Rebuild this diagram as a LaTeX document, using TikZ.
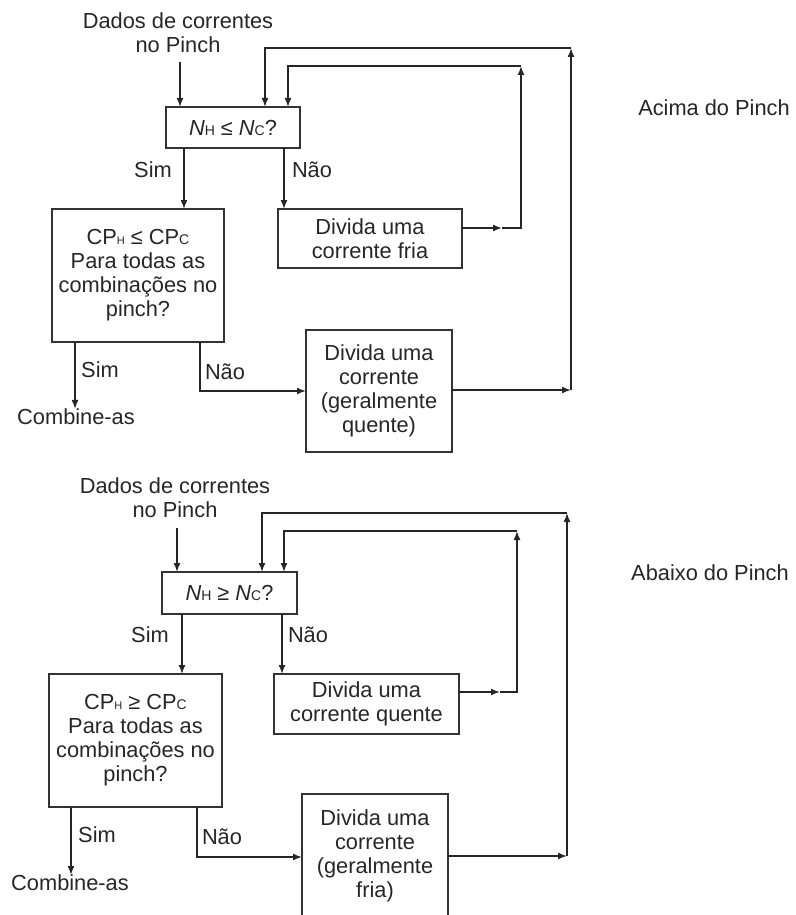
\documentclass[tikz,border=0pt]{standalone}
\usepackage{fontspec}
\setmainfont{Liberation Sans}
\usetikzlibrary{arrows.meta}

% small letters standing on the baseline, used as indices
\newcommand{\idx}[1]{{\fontsize{14}{14}\selectfont #1}}
\newcommand{\tinyidx}[1]{{\fontsize{11}{11}\selectfont #1}}

\begin{document}
\begin{tikzpicture}[x=1pt,y=-1pt,
  base/.style={font=\fontsize{21.8}{24}\selectfont, text=black!85, inner sep=0pt, outer sep=0pt},
  txt/.style={base, align=center},
  box/.style={base, draw=black!80, line width=1.5pt, align=center},
  arr/.style={draw=black!85, line width=1.5pt, -{Latex[length=9pt,width=7pt]}},
]
\useasboundingbox (0,0) rectangle (795,915);
\clip (0,0) rectangle (795,915);

% ---------- above the pinch ----------
\node[txt] (dados1) at (178,33) {Dados de correntes\\no Pinch};
\node[box, minimum width=134pt, minimum height=41pt] (q1) at (233,127.5)
  {\textit{N}\idx{H} ≤ \textit{N}\idx{C}?};
\node[box, minimum width=172pt, minimum height=133pt] (cp1) at (138,275.5)
  {CP\tinyidx{H} ≤ CP\idx{C}\\Para todas as\\combinações no\\pinch?};
\node[box, minimum width=184pt, minimum height=59pt] (fria1) at (370,238.5)
  {Divida uma\\corrente fria};
\node[box, minimum width=146pt, minimum height=122pt] (div1) at (379,391)
  {Divida uma\\corrente\\(geralmente\\quente)};
\node[txt] (comb1) at (76,417) {Combine-as};
\node[txt] (sim1) at (153,170) {Sim};
\node[txt] (nao1) at (312,170) {Não};
\node[txt] (sim1b) at (100,370) {Sim};
\node[txt] (nao1b) at (225,372) {Não};
\node[txt] (acima) at (714,108) {Acima do Pinch};

\coordinate (ys1) at (0,62);
\coordinate (xsim1) at (184,0);
\coordinate (xnao1) at (284,0);
\coordinate (xi1) at (521,0);
\coordinate (yi1) at (0,66);
\coordinate (xo1) at (571,0);
\coordinate (yo1) at (0,48);
\coordinate (mi1) at (502,228);
\coordinate (ci1) at (521,228);
\coordinate (co1) at (571,390);

\draw[arr] (ys1 -| 180,0) -- (q1.north -| 180,0);
\draw[arr] (q1.south -| xsim1) -- (cp1.north -| xsim1);
\draw[arr] (q1.south -| xnao1) -- (fria1.north -| xnao1);
% inner loop back to the test
\draw[arr] (fria1.east |- mi1) -- (mi1);
\draw[arr] (mi1) -- (ci1) -- (xi1 |- yi1);
\draw[arr] (xi1 |- yi1) -| (q1.north -| 288,0);
% outer loop back to the test
\draw[arr] (div1.east |- co1) -- (co1);
\draw[arr] (co1) -- (xo1 |- yo1);
\draw[arr] (xo1 |- yo1) -| (q1.north -| 265,0);
% from the CP test
\draw[arr] (cp1.south -| 75,0) -- (comb1.north -| 75,0);
\draw[arr] (cp1.south -| 200,0) |- (div1.west |- 0,391);

% ---------- below the pinch ----------
\node[txt] (dados2) at (175,498) {Dados de correntes\\no Pinch};
\node[box, minimum width=135pt, minimum height=42pt] (q2) at (229.5,593)
  {\textit{N}\idx{H} ≥ \textit{N}\idx{C}?};
\node[box, minimum width=173pt, minimum height=133pt] (cp2) at (135.5,740.5)
  {CP\tinyidx{H} ≥ CP\idx{C}\\Para todas as\\combinações no\\pinch?};
\node[box, minimum width=185pt, minimum height=60pt] (quente2) at (366.5,704)
  {Divida uma\\corrente quente};
\node[box, minimum width=146pt, minimum height=124pt] (div2) at (375,856)
  {Divida uma\\corrente\\(geralmente\\fria)};
\node[txt] (comb2) at (70,883) {Combine-as};
\node[txt] (sim2) at (150,635) {Sim};
\node[txt] (nao2) at (308,635) {Não};
\node[txt] (sim2b) at (97,835) {Sim};
\node[txt] (nao2b) at (222,837) {Não};
\node[txt] (abaixo) at (710,573) {Abaixo do Pinch};

\coordinate (ys2) at (0,528);
\coordinate (xsim2) at (182,0);
\coordinate (xnao2) at (282,0);
\coordinate (xi2) at (517,0);
\coordinate (yi2) at (0,531);
\coordinate (xo2) at (567,0);
\coordinate (yo2) at (0,513);
\coordinate (mi2) at (500,692);
\coordinate (ci2) at (517,692);
\coordinate (co2) at (567,856);

\draw[arr] (ys2 -| 177,0) -- (q2.north -| 177,0);
\draw[arr] (q2.south -| xsim2) -- (cp2.north -| xsim2);
\draw[arr] (q2.south -| xnao2) -- (quente2.north -| xnao2);
% inner loop back to the test
\draw[arr] (quente2.east |- mi2) -- (mi2);
\draw[arr] (mi2) -- (ci2) -- (xi2 |- yi2);
\draw[arr] (xi2 |- yi2) -| (q2.north -| 284,0);
% outer loop back to the test
\draw[arr] (div2.east |- co2) -- (co2);
\draw[arr] (co2) -- (xo2 |- yo2);
\draw[arr] (xo2 |- yo2) -| (q2.north -| 262,0);
% from the CP test
\draw[arr] (cp2.south -| 71,0) -- (comb2.north -| 71,0);
\draw[arr] (cp2.south -| 197,0) |- (div2.west |- 0,857);
\end{tikzpicture}
\end{document}
